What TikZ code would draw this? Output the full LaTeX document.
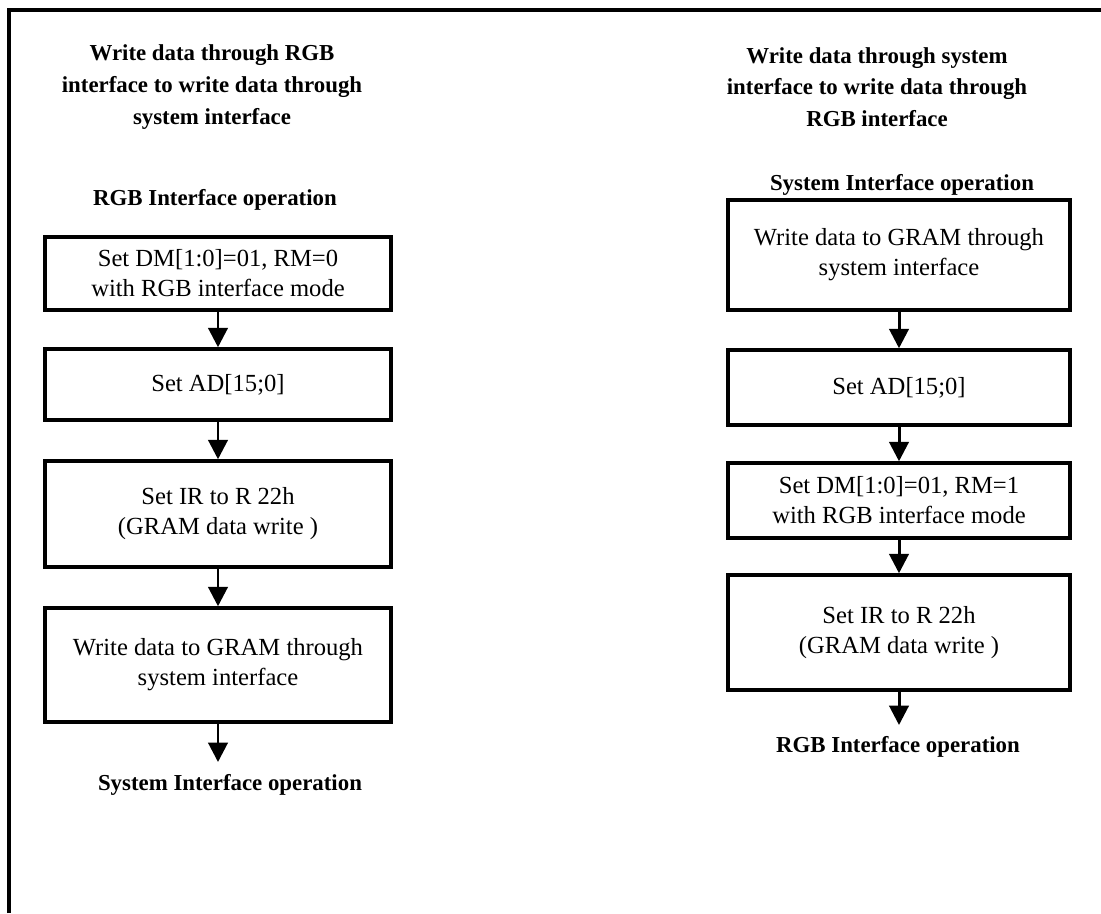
\documentclass[tikz,border=0pt]{standalone}
\usepackage{fontspec}
\setmainfont{Liberation Serif}
\usetikzlibrary{positioning,arrows.meta}
\tikzstyle{arrow} = [line width=1.7pt,-{Triangle[length=11pt,width=11pt]}]
\tikzstyle{block} = [draw,line width=2pt,align=center,inner sep=0pt,font=\fontsize{14}{17}\selectfont]
\tikzstyle{heading} = [align=center,inner sep=0pt,font=\fontsize{13}{18}\selectfont\bfseries]

\begin{document}
\begin{tikzpicture}
\useasboundingbox (0,0) rectangle (22.02,-18.26);
\draw[line width=2pt] (0.18,-18.26) -- (0.18,-0.20) -- (22.02,-0.20);

% left flow
\node[heading] (titleL) at (4.24,-1.74) {Write data through RGB\\interface to write data through\\system interface};
\node[heading] (startL) at (4.30,-4.00) {RGB Interface operation};
\node[block,minimum width=6.92cm,minimum height=1.46cm] (l1) at (4.36,-5.47) {Set DM[1:0]=01, RM=0\\with RGB interface mode};
\node[block,minimum width=6.92cm,minimum height=1.42cm] (l2) at (4.36,-7.69) {Set AD[15;0]};
\node[block,minimum width=6.92cm,minimum height=2.12cm] (l3) at (4.36,-10.28) {Set IR to R 22h\\(GRAM data write )};
\node[block,minimum width=6.92cm,minimum height=2.28cm] (l4) at (4.36,-13.30) {Write data to GRAM through\\system interface};
\coordinate (endL) at (4.36,-15.24);
\node[heading] (stopL) at (4.60,-15.70) {System Interface operation};

\draw [arrow] (l1) -- (l2);
\draw [arrow] (l2) -- (l3);
\draw [arrow] (l3) -- (l4);
\draw [arrow] (l4) -- (endL);

% right flow
\node[heading] (titleR) at (17.54,-1.74) {Write data through system\\interface to write data through\\RGB interface};
\node[heading] (startR) at (18.04,-3.70) {System Interface operation};
\node[block,minimum width=6.84cm,minimum height=2.20cm] (r1) at (17.98,-5.10) {Write data to GRAM through\\system interface};
\node[block,minimum width=6.84cm,minimum height=1.50cm] (r2) at (17.98,-7.75) {Set AD[15;0]};
\node[block,minimum width=6.84cm,minimum height=1.50cm] (r3) at (17.98,-10.01) {Set DM[1:0]=01, RM=1\\with RGB interface mode};
\node[block,minimum width=6.84cm,minimum height=2.30cm] (r4) at (17.98,-12.65) {Set IR to R 22h\\(GRAM data write )};
\coordinate (endR) at (17.98,-14.50);
\node[heading] (stopR) at (17.96,-14.94) {RGB Interface operation};

\draw [arrow] (r1) -- (r2);
\draw [arrow] (r2) -- (r3);
\draw [arrow] (r3) -- (r4);
\draw [arrow] (r4) -- (endR);
\end{tikzpicture}
\end{document}
